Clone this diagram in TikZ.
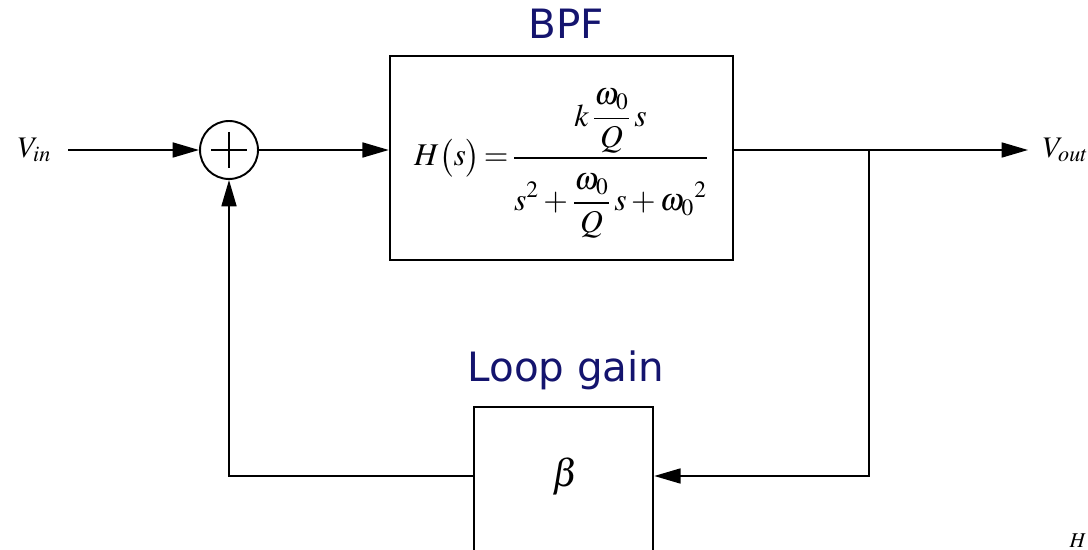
\documentclass[tikz,border=0pt]{standalone}
\usepackage{amsmath}
\usepackage{mathptmx}
\usepackage[no-math]{fontspec}
\setmainfont{Liberation Serif}
\newfontfamily\labelfont{DejaVu Sans}
\usetikzlibrary{arrows.meta}
\definecolor{titleblue}{RGB}{20,20,110}
\begin{document}
\begin{tikzpicture}[x=0.02cm,y=-0.02cm,>={Triangle[length=15pt,width=8.5pt]},line width=1.1pt,
  blk/.style={draw,rectangle,line width=1.4pt},
  sig/.style={inner sep=0pt,anchor=west,font=\fontsize{17}{19}\selectfont},
  title/.style={text=titleblue,anchor=base,font=\labelfont\fontsize{23}{26}\selectfont}]
\useasboundingbox (0,0) rectangle (1088,550);
\clip (0,0) rectangle (1088,550);
\node[sig,outer sep=9.6pt] (vin) at (1,150) {$V_{in}$};
\node[circle,draw,minimum size=1.16cm,inner sep=0pt] (sum) at (229,150) {};
\draw (sum.center) +(-18,0) -- +(18,0) (sum.center) +(0,-18) -- +(0,18);
\node[blk,minimum width=6.86cm,minimum height=4.08cm] (bpf) at (561.5,158)
  {\fontsize{18}{20}\selectfont$\displaystyle H\bigl(s\bigr)\!=\!\frac{\raisebox{2pt}[\height][\depth]{$\displaystyle k\,\dfrac{\omega_0}{Q}\,s$}}
   {\raisebox{-6.5pt}[\height][\depth]{$\displaystyle s^2+\dfrac{\omega_0}{Q}\,s+{\omega_0}^2$}}$};
\node[title] (bpftitle) at (566,39) {BPF};
\node[sig,outer sep=8.5pt] (vout) at (1028,150) {$V_{out}$};
\node[blk,minimum width=3.58cm,minimum height=4.8cm] (loop) at (563.5,527) {};
\node[font=\fontsize{22}{24}\selectfont] (beta) at (565,476) {$\beta$};
\node[title] (looptitle) at (566,381) {Loop gain};
\node[font=\fontsize{12}{14}\selectfont,inner sep=1pt] (hmark) at (1078,541) {$H$};
\coordinate (tap) at (869,150);

\draw[->] (vin) -- (sum);
\draw[->] (sum) -- (sum -| bpf.west);
\draw[->] (bpf.east |- vout) -- (vout);
\draw[->] (tap) |- (loop.east |- beta);
\draw[->] (loop.west |- beta) -| (sum);
\end{tikzpicture}
\end{document}
